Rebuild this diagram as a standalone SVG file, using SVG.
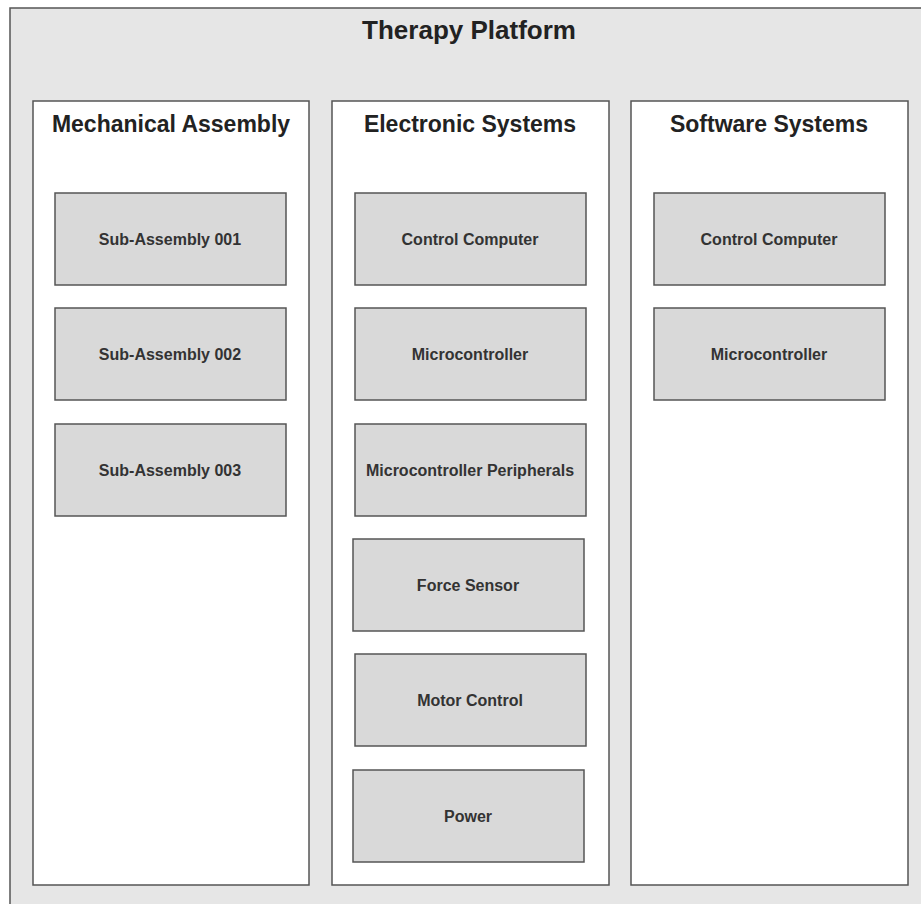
<svg xmlns="http://www.w3.org/2000/svg" width="921" height="904" viewBox="0 0 921 904">
<style>
.outer{fill:#e6e6e6;stroke:#555;stroke-width:1.5}
.col{fill:#fff;stroke:#555;stroke-width:1.5}
.box{fill:#d9d9d9;stroke:#555;stroke-width:1.5}
text{font-family:"Liberation Sans",Arial,sans-serif;font-weight:bold;text-anchor:middle}
.t0{font-size:26px;fill:#222}
.t1{font-size:23px;fill:#222}
.t2{font-size:16px;fill:#333}
</style>
<g id="therapy-platform">
<rect class="outer" x="10" y="8" width="925" height="910"/>
<text class="t0" x="469" y="39">Therapy Platform</text>
</g>
<g id="mechanical-assembly">
<rect class="col" x="33" y="101" width="276" height="784"/>
<text class="t1" x="171" y="132">Mechanical Assembly</text>
</g>
<g id="electronic-systems">
<rect class="col" x="332" y="101" width="277" height="784"/>
<text class="t1" x="470" y="132">Electronic Systems</text>
</g>
<g id="software-systems">
<rect class="col" x="631" y="101" width="277" height="784"/>
<text class="t1" x="769" y="132">Software Systems</text>
</g>
<g id="sub-assembly-001"><rect class="box" x="55" y="193" width="231" height="92"/><text class="t2" x="170" y="245">Sub-Assembly 001</text></g>
<g id="sub-assembly-002"><rect class="box" x="55" y="308" width="231" height="92"/><text class="t2" x="170" y="360">Sub-Assembly 002</text></g>
<g id="sub-assembly-003"><rect class="box" x="55" y="424" width="231" height="92"/><text class="t2" x="170" y="476">Sub-Assembly 003</text></g>
<g id="es-control-computer"><rect class="box" x="355" y="193" width="231" height="92"/><text class="t2" x="470" y="245">Control Computer</text></g>
<g id="es-microcontroller"><rect class="box" x="355" y="308" width="231" height="92"/><text class="t2" x="470" y="360">Microcontroller</text></g>
<g id="es-microcontroller-peripherals"><rect class="box" x="355" y="424" width="231" height="92"/><text class="t2" x="470" y="476">Microcontroller Peripherals</text></g>
<g id="es-force-sensor"><rect class="box" x="353" y="539" width="231" height="92"/><text class="t2" x="468" y="591">Force Sensor</text></g>
<g id="es-motor-control"><rect class="box" x="355" y="654" width="231" height="92"/><text class="t2" x="470" y="706">Motor Control</text></g>
<g id="es-power"><rect class="box" x="353" y="770" width="231" height="92"/><text class="t2" x="468" y="822">Power</text></g>
<g id="ss-control-computer"><rect class="box" x="654" y="193" width="231" height="92"/><text class="t2" x="769" y="245">Control Computer</text></g>
<g id="ss-microcontroller"><rect class="box" x="654" y="308" width="231" height="92"/><text class="t2" x="769" y="360">Microcontroller</text></g>
<g id="connectors"></g>
</svg>
